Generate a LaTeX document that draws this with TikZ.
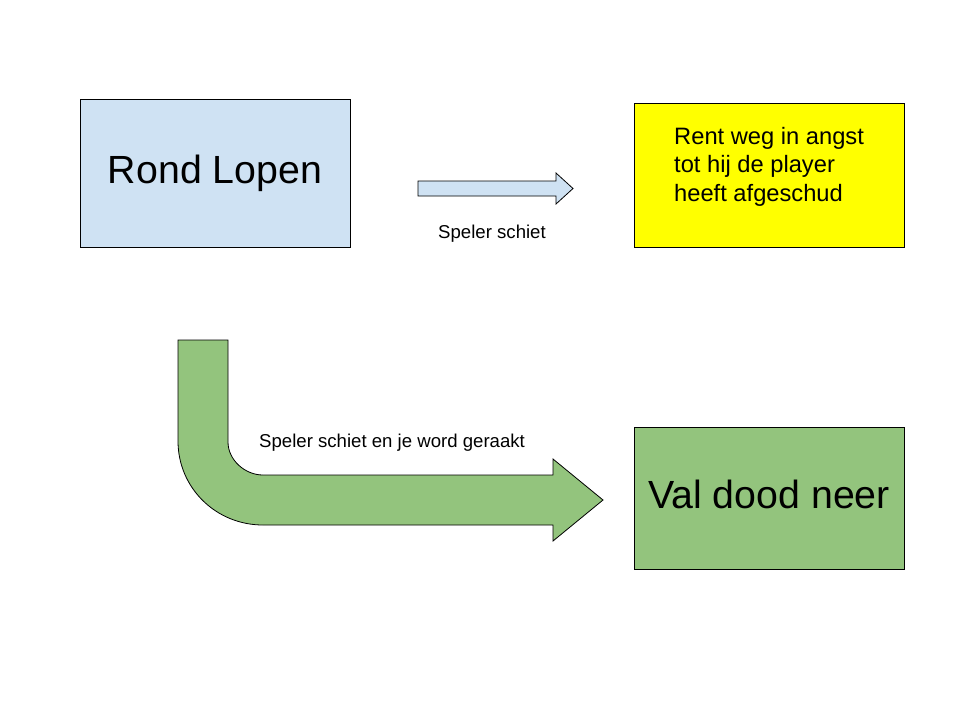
\documentclass[tikz,border=0pt]{standalone}
\usepackage{fontspec}
\setmainfont{Liberation Sans}
\definecolor{boxblue}{HTML}{CFE2F3}
\definecolor{boxyellow}{HTML}{FFFF00}
\definecolor{boxgreen}{HTML}{93C47D}
\tikzset{
  statebox/.style={draw=black, line width=0.8pt, rectangle, inner sep=0pt, text height=28pt, text depth=8pt},
  bigtext/.style={font=\fontsize{39.3}{46}\selectfont},
  labeltext/.style={font=\fontsize{18.6}{22}\selectfont, inner sep=0pt},
  arrowshape/.style={draw=black, line width=0.8pt, line join=miter}
}
\begin{document}
\begin{tikzpicture}[x=1pt, y=-1pt]
\useasboundingbox[fill=white] (0,0) rectangle (960,720);
% boxes
\node[statebox, fill=boxblue, bigtext, minimum width=270pt, minimum height=148pt] (rond) at (215,173) {Rond Lopen};
\node[statebox, fill=boxyellow, minimum width=270pt, minimum height=144pt] (flee) at (769,175) {};
\node[anchor=base west, inner sep=0pt, align=left, font=\fontsize{23.7}{28.5}\selectfont] (fleetext) at (674,201) {Rent weg in angst\\tot hij de player\\heeft afgeschud};
\node[statebox, fill=boxgreen, bigtext, minimum width=270pt, minimum height=142pt] (dood) at (769,498) {Val dood neer};
% small arrow
\draw[arrowshape, fill=boxblue] (418,181) -- (556,181) -- (556,173) -- (573,188.5) -- (556,204) -- (556,196) -- (418,196) -- cycle;
\node[labeltext, anchor=base] (lab1) at (492,238) {Speler schiet};
% bent arrow
\draw[arrowshape, fill=boxgreen] (178,340) -- (228,340) -- (228,442)
  .. controls (228,460) and (245,475) .. (263,475)
  -- (553,475) -- (553,459) -- (603,500) -- (553,541) -- (553,525) -- (263,525)
  .. controls (216,525) and (178,488) .. (178,441) -- cycle;
\node[labeltext, anchor=base west] (lab2) at (259,447) {Speler schiet en je word geraakt};
\end{tikzpicture}
\end{document}
